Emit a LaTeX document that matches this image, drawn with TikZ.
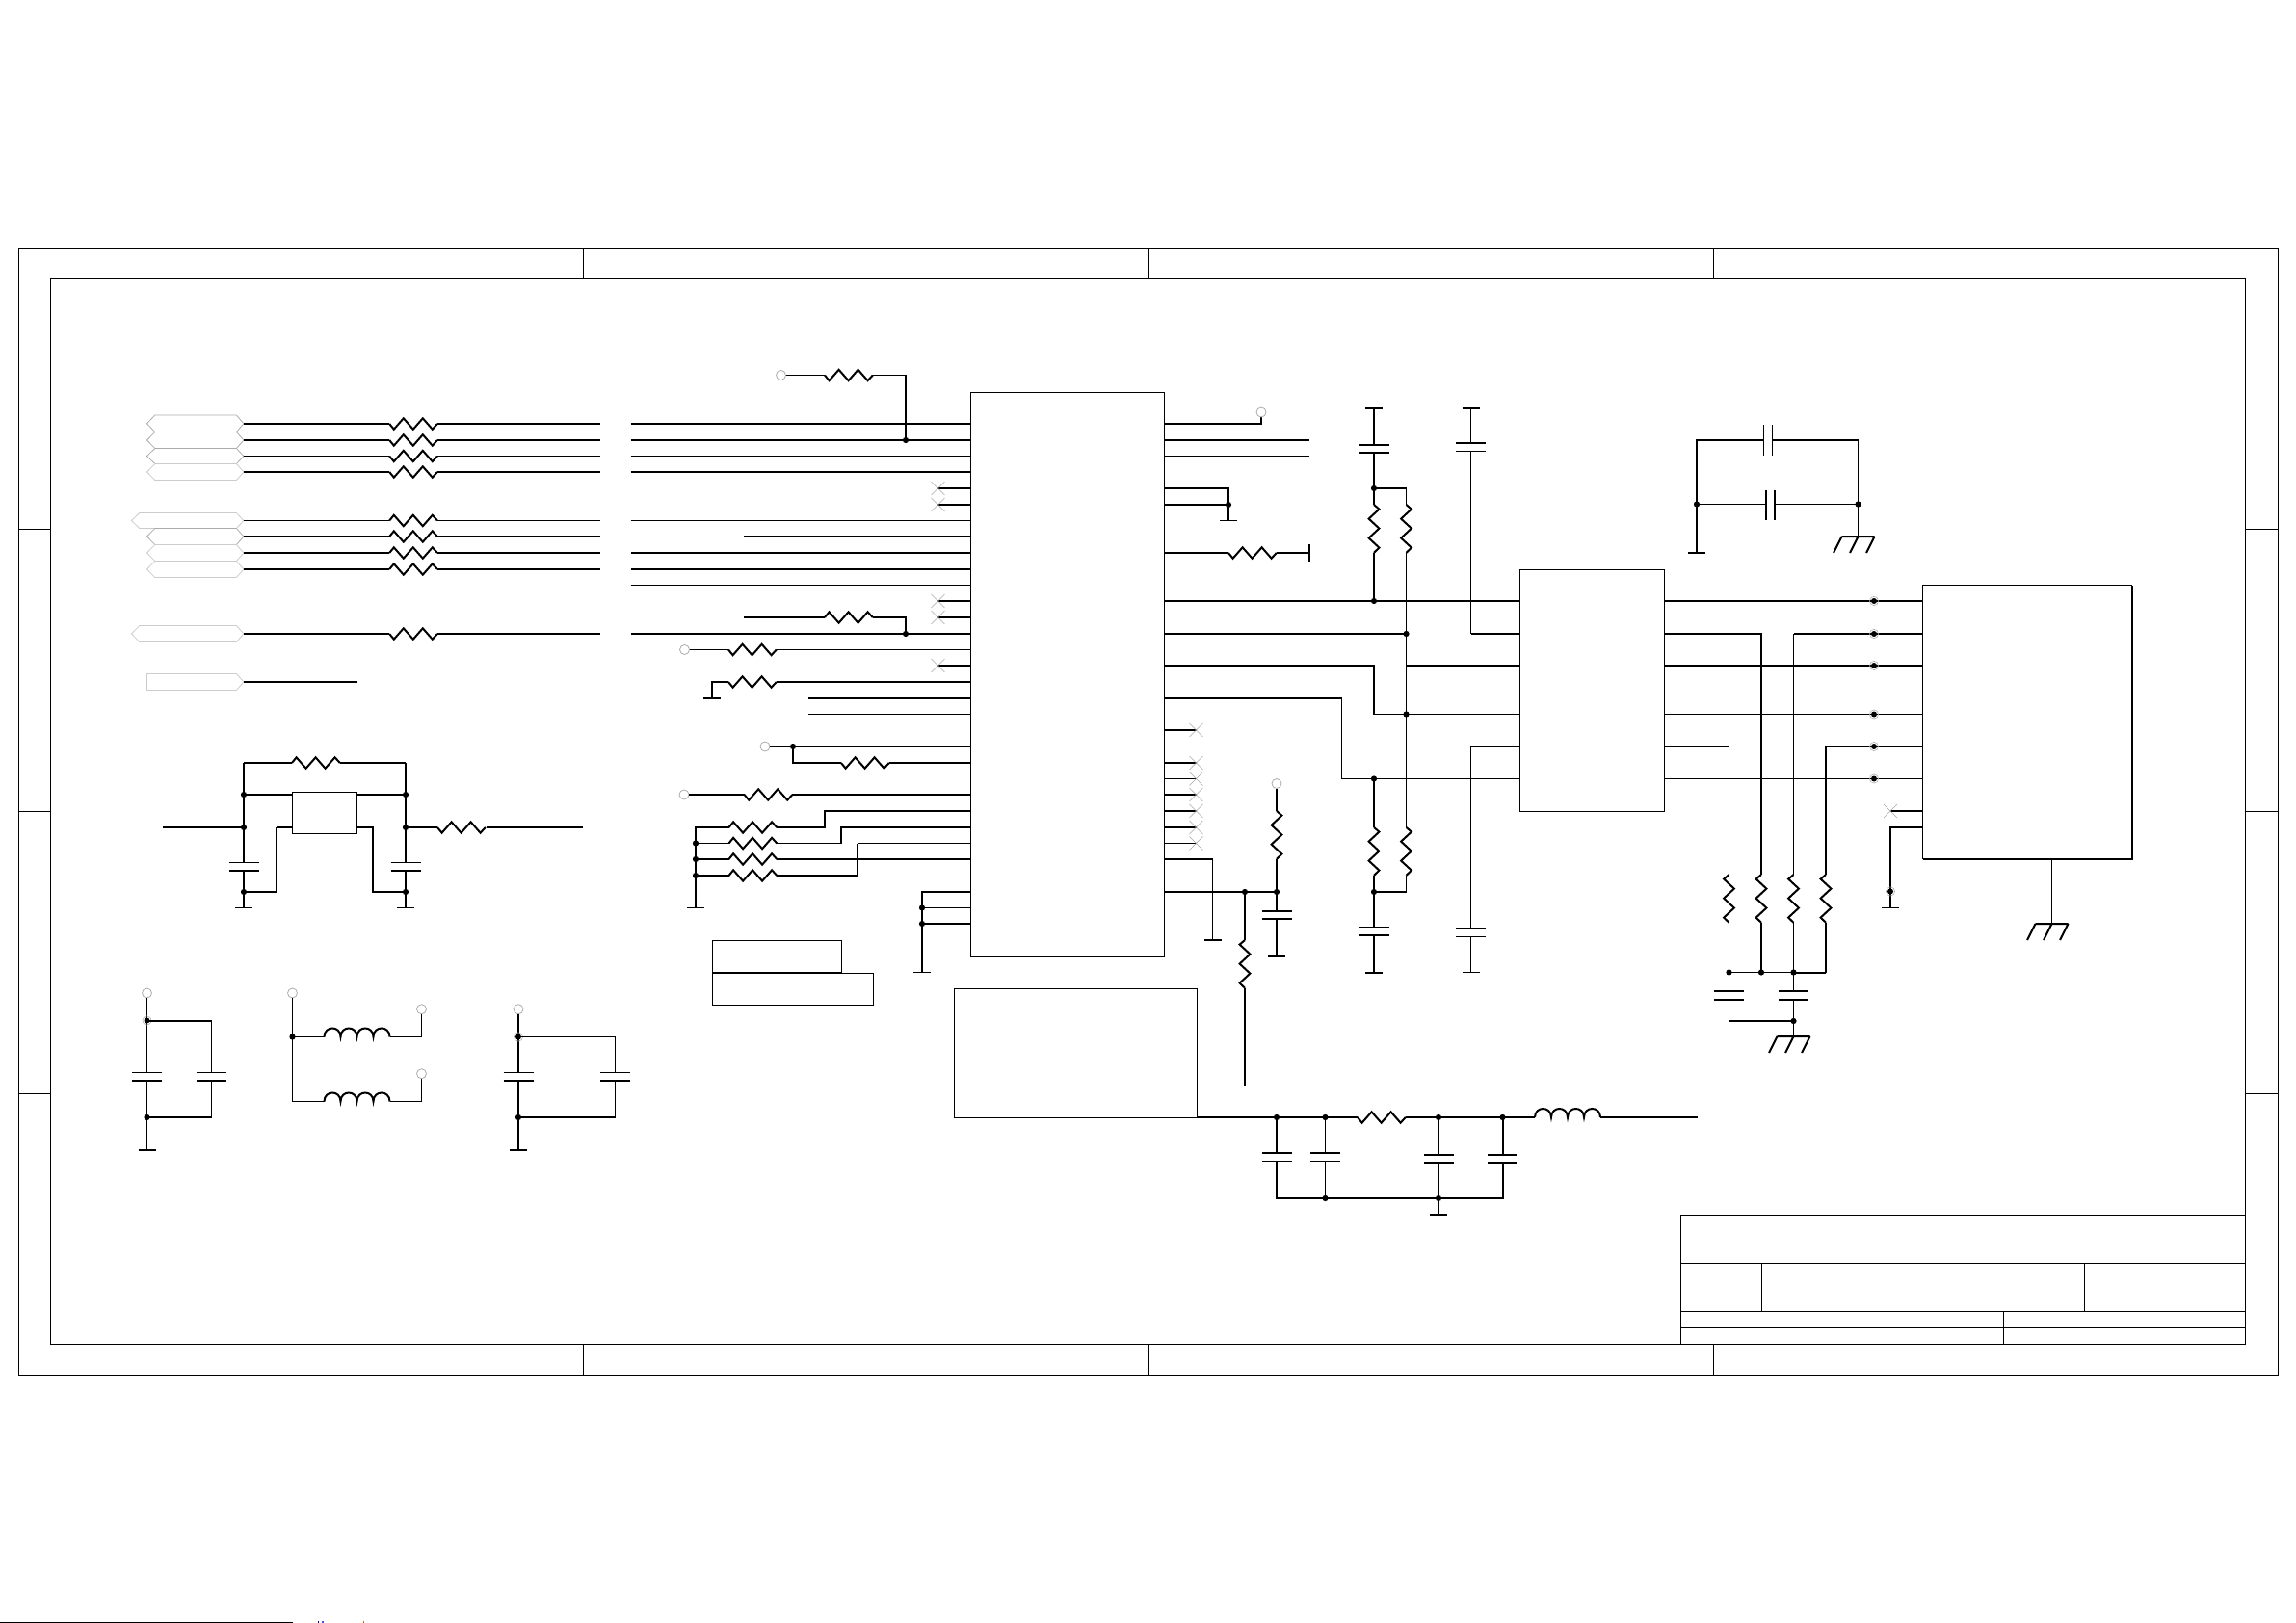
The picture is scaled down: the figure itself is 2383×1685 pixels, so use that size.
\documentclass[tikz,border=0pt]{standalone}
\tikzset{
  wa/.style={line width=0.65pt,black},
  wm/.style={line width=0.8pt,black},
  wb/.style={line width=1pt,black},
  frm/.style={line width=0.65pt,black},
  chip/.style={draw,line width=0.65pt,black,inner sep=0pt,outer sep=0pt,anchor=north west},
  nc/.style={line width=0.3pt,gray!70},
  port/.style={line width=0.4pt,gray!65},
  portd/.style={line width=0.4pt,gray!40},
}
% horizontal resistor: x, y, first swing, style
\newcommand{\sRH}[4]{\draw[#4,line join=miter] (#1,#2) -- ++(4.6,#3*5.7) -- ++(10,-#3*11.4) -- ++(10,#3*11.4) -- ++(10,-#3*11.4) -- ++(10,#3*11.4) -- ++(5.2,-#3*5.7);}
% vertical resistor: x, y, first swing, style
\newcommand{\sRV}[4]{\draw[#4,line join=miter] (#1,#2) -- ++(#3*5.4,4.6) -- ++(-#3*10.8,10) -- ++(#3*10.8,10) -- ++(-#3*10.8,10) -- ++(#3*10.8,10) -- ++(-#3*5.4,5.2);}
\newcommand{\sDot}[2]{\fill (#1,#2) circle[radius=1.55pt];}
\newcommand{\sHalo}[2]{\draw[nc,line width=0.25pt] (#1,#2) circle[radius=2.3pt]; \fill (#1,#2) circle[radius=1.5pt];}
\newcommand{\sOpen}[2]{\draw[port] (#1,#2) circle[radius=2.5pt];}
\newcommand{\sX}[2]{\draw[nc] (#1-7,#2-7) -- (#1+7,#2+7) (#1-7,#2+7) -- (#1+7,#2-7);}
\newcommand{\sGT}[3]{\draw[#3] (#1-9,#2) -- (#1+9,#2);}
\newcommand{\sEA}[2]{\draw[wb] (#1-17,#2) -- (#1+17,#2) (#1-17,#2) -- ++(-8.5,17) (#1,#2) -- ++(-8.5,17) (#1+17,#2) -- ++(-8.5,17);}
% capacitor with horizontal plates: x, y1, y2, style1, style2
\newcommand{\sCap}[5]{\draw[#4] (#1-15.5,#2) -- (#1+15.5,#2); \draw[#5] (#1-15.5,#3) -- (#1+15.5,#3);}
% inductor: x, y, style
\newcommand{\sInd}[3]{\draw[#3] (#1,#2) .. controls (#1,#2-12) and (#1+17,#2-12) .. (#1+17,#2) .. controls (#1+17,#2-12) and (#1+34,#2-12) .. (#1+34,#2) .. controls (#1+34,#2-12) and (#1+51,#2-12) .. (#1+51,#2) .. controls (#1+51,#2-12) and (#1+68,#2-12) .. (#1+68,#2);}
% bus port: left x, top y, bottom y, style
\newcommand{\sHex}[4]{\draw[#4] (#1,{(#2+#3)/2}) -- (#1+8.3,#2) -- (245.4,#2) -- (253,{(#2+#3)/2}) -- (245.4,#3) -- (#1+8.3,#3) -- cycle;}
\begin{document}
\begin{tikzpicture}[x=0.5pt,y=-0.5pt]
\useasboundingbox (0,0) rectangle (2383,1685);
% ---- sheet frame
\draw[frm] (19.5,257.5) rectangle (2364.5,1428.5);
\draw[frm] (52.5,289.5) rectangle (2330.5,1395.5);
\foreach \x in {605.5,1192.5,1778.5}{\draw[frm] (\x,257.5) -- (\x,289.5) (\x,1395.5) -- (\x,1428.5);}
\foreach \y in {549.5,842.5,1135.5}{\draw[frm] (19.5,\y) -- (52.5,\y) (2330.5,\y) -- (2364.5,\y);}
% title block
\draw[frm] (1744.5,1395.5) -- (1744.5,1261.5) -- (2330.5,1261.5);
\draw[frm] (1744.5,1311.5) -- (2330.5,1311.5) (1744.5,1361.5) -- (2330.5,1361.5) (1744.5,1378.5) -- (2330.5,1378.5);
\draw[frm] (1828.5,1311.5) -- (1828.5,1361.5) (2163.5,1311.5) -- (2163.5,1361.5) (2079.5,1361.5) -- (2079.5,1395.5);
% page-edge remnant
\draw[line width=0.6pt] (0,1684.3) -- (304,1684.3);
\fill[blue!60!black] (330,1683.4) rectangle (331,1685);
\fill[blue!70] (334,1683.4) rectangle (335.5,1685);
\fill[orange!80!black] (377,1683.4) rectangle (378,1685);
% ---- boxes
\node[chip,minimum width=100.5pt,minimum height=293pt] (u1) at (1007.5,407.5) {};
\node[chip,minimum width=75pt,minimum height=125.5pt] (u2) at (1577.5,591.5) {};
\node[chip,minimum width=108.5pt,minimum height=142pt] (u3) at (1995.5,607.5) {};
\draw[wb] (u3.north east) -- (u3.south east) -- (u3.south west);
\node[chip,minimum width=126pt,minimum height=67pt] (u4) at (990.5,1026.5) {};
\node[chip,minimum width=33.5pt,minimum height=21.5pt] (u5) at (303.5,822.5) {};
\node[chip,minimum width=67pt,minimum height=16.5pt] (lab1) at (739.5,976.5) {};
\node[chip,minimum width=83.5pt,minimum height=16.5pt] (lab2) at (739.5,1010.5) {};
% ---- bus ports
\sHex{152.5}{431}{448.5}{port}
\sHex{152.5}{448.5}{465.5}{port}
\sHex{152.5}{465.5}{481.5}{port}
\sHex{152.5}{481.5}{498.5}{portd}
\sHex{136.5}{532.5}{548.5}{portd}
\sHex{152.5}{548.5}{565.5}{port}
\sHex{152.5}{565.5}{582.5}{portd}
\sHex{152.5}{582.5}{599.5}{portd}
\sHex{136.5}{649.5}{666.5}{portd}
\draw[portd] (152.5,699.5) -- (245.4,699.5) -- (253,708) -- (245.4,716.5) -- (152.5,716.5) -- cycle;
% ---- left-hand series rows
\foreach \y/\s/\g in {440/wb/1,457/wb/1,473.5/wa/1,490/wb/1,540.5/wa/-1,574/wb/-1,591/wb/-1,658/wb/1}{
  \draw[\s] (253,\y) -- (404.2,\y) (454,\y) -- (622.5,\y) (654.5,\y) -- (u1.west |- 0,\y);
  \sRH{404.2}{\y}{\g}{wb}
}
\draw[wb] (253,557) -- (404.2,557) (454,557) -- (622.5,557) (772,557) -- (u1.west |- 0,557);
\sRH{404.2}{557}{-1}{wb}
\draw[wa] (654.5,607.5) -- (u1.west |- 0,607.5);
\draw[wb] (253,708) -- (370.5,708);
% pull-up to row 457
\sOpen{810.5}{389.5}
\draw[wa] (815.5,389.5) -- (856,389.5);
\sRH{856}{389.5}{1}{wb}
\draw[wa] (906,389.5) -- (940,389.5);
\draw[wb] (940,389) -- (940,457);
\sDot{940}{457}
% no-connect pins, left
\foreach \y in {507,524,624,641,691}{\draw[wb] (972.5,\y) -- (u1.west |- 0,\y); \sX{973.5}{\y}}
% row 641 series
\draw[wb] (772,641) -- (856,641);
\sRH{856}{641}{-1}{wb}
\draw[wb] (906,641) -- (940,641) -- (940,658);
\sDot{940}{658}
% row 674.5
\sOpen{710.5}{674.5}
\draw[wa] (715.5,674.5) -- (756,674.5) (806,674.5) -- (u1.west |- 0,674.5);
\sRH{756}{674.5}{1}{wb}
% row 708
\draw[wb] (730,725) -- (748,725) (739,725) -- (739,708) -- (756,708) (806,708) -- (u1.west |- 0,708);
\sRH{756}{708}{1}{wb}
\draw[wb] (839,725) -- (u1.west |- 0,725);
\draw[wa] (839,741.5) -- (u1.west |- 0,741.5);
% rows 775, 792
\sOpen{794}{775}
\draw[wb] (799,775) -- (u1.west |- 0,775);
\sDot{823}{775}
\draw[wb] (823,775) -- (823,792) -- (873,792) (923,792) -- (u1.west |- 0,792);
\sRH{873}{792}{1}{wb}
% row 825
\sOpen{710}{825}
\draw[wb] (715,825) -- (772.6,825) (822.4,825) -- (u1.west |- 0,825);
\sRH{772.6}{825}{1}{wb}
% pull-down ladder
\draw[wb] (u1.west |- 0,842) -- (856,842) -- (856,859) -- (806.3,859);
\draw[wb] (u1.west |- 0,859) -- (873,859) -- (873,875.5);
\draw[wa] (873,875.5) -- (806.3,875.5);
\draw[wa] (u1.west |- 0,875.5) -- (890,875.5);
\draw[wb] (890,875.5) -- (890,909) -- (806.3,909);
\draw[wb] (u1.west |- 0,892) -- (806.3,892);
\foreach \y/\s in {859/wb,875.5/wa,892/wb,909/wb}{
  \sRH{756.5}{\y}{-1}{wb}
  \draw[\s] (756.5,\y) -- (722,\y);
}
\draw[wb] (722,858) -- (722,942.5);
\sGT{722}{942.5}{wa}
\foreach \y in {875.5,892,909}{\sDot{722}{\y}}
% bottom-left pins of u1
\draw[wb] (u1.west |- 0,926) -- (957,926) -- (957,1009.5);
\draw[wa] (u1.west |- 0,942.5) -- (957,942.5);
\draw[wb] (u1.west |- 0,959) -- (957,959);
\sDot{957}{942.5}
\sDot{957}{959}
\sGT{957}{1009.5}{wa}
% ---- right side of u1
\draw[wb] (u1.east |- 0,440) -- (1309,440) -- (1309,433);
\sOpen{1309}{428}
\draw[wb] (u1.east |- 0,457) -- (1359,457);
\draw[wa] (u1.east |- 0,473.5) -- (1359,473.5);
\draw[wb] (u1.east |- 0,507) -- (1275,507) -- (1275,540.5);
\draw[wb] (u1.east |- 0,524) -- (1275,524);
\sDot{1275}{524}
\sGT{1275}{540.5}{wa}
\draw[wb] (u1.east |- 0,574) -- (1275,574) (1325,574) -- (1359,574) (1359,565) -- (1359,582.5);
\sRH{1275}{574}{1}{wb}
\foreach \y/\s in {758/wb,792/wb,808.5/wa,825/wb,842/wb,859/wb,875.5/wa}{
  \draw[\s] (u1.east |- 0,\y) -- (1242,\y);
  \sX{1241.5}{\y}
}
% main rows to u2
\draw[wb] (u1.east |- 0,624) -- (u2.west |- 0,624);
\sDot{1426}{624}
\draw[wb] (u1.east |- 0,658) -- (1459.5,658);
\sDot{1459.5}{658}
\draw[wb] (u1.east |- 0,691) -- (1426,691) -- (1426,741.5);
\draw[wa] (1426,741.5) -- (u2.west |- 0,741.5);
\sDot{1459.5}{741.5}
\draw[wb] (1459.5,691) -- (u2.west |- 0,691);
\draw[wb] (u1.east |- 0,725) -- (1392.5,725);
\draw[wa] (1392.5,725) -- (1392.5,808.5) -- (u2.west |- 0,808.5);
\sDot{1426}{808.5}
% cap/res column at 1426 (top)
\sGT{1426}{423.5}{wb}
\draw[wb] (1426,423.5) -- (1426,462) (1426,470) -- (1426,507) -- (1459.5,507);
\sCap{1426}{462}{470}{wb}{wb}
\sDot{1426}{507}
\draw[wa] (1426,507) -- (1426,524);
\sRV{1426}{524}{1}{wb}
\draw[wb] (1426,574) -- (1426,624);
\draw[wa] (1459.5,507) -- (1459.5,524) (1459.5,574) -- (1459.5,691);
\sRV{1459.5}{524}{1}{wb}
% cap column at 1526.5
\sGT{1526.5}{423.5}{wb}
\draw[wa] (1526.5,423.5) -- (1526.5,460) (1526.5,468.5) -- (1526.5,658);
\sCap{1526.5}{460}{468.5}{wb}{wa}
\draw[wb] (1526.5,658) -- (u2.west |- 0,658);
\draw[wb] (u2.west |- 0,775) -- (1526.5,775);
\draw[wa] (1526.5,775) -- (1526.5,964) (1526.5,972.5) -- (1526.5,1009.5);
\sCap{1526.5}{964}{972.5}{wb}{wa}
\sGT{1526.5}{1009.5}{wa}
% lower res/cap columns
\draw[wb] (1426,808.5) -- (1426,859);
\sRV{1426}{859}{1}{wb}
\draw[wb] (1426,909) -- (1426,962.5) (1426,971) -- (1426,1009.5);
\sCap{1426}{962.5}{971}{wa}{wb}
\sGT{1426}{1009.5}{wb}
\sDot{1426}{926}
\draw[wa] (1459.5,691) -- (1459.5,859);
\sRV{1459.5}{859}{1}{wb}
\draw[wa] (1459.5,909) -- (1459.5,926);
\draw[wb] (1460,926) -- (1426,926);
% rows 892 / 926 of u1
\draw[wb] (u1.east |- 0,892) -- (1258.5,892);
\draw[wa] (1258.5,892) -- (1258.5,976);
\sGT{1258.5}{976}{wb}
\draw[wb] (u1.east |- 0,926) -- (1325,926);
\sDot{1292}{926}
\sDot{1325}{926}
\sOpen{1325}{813.5}
\draw[wb] (1325,818.5) -- (1325,842) (1325,892) -- (1325,946) (1325,954) -- (1325,993);
\sRV{1325}{842}{1}{wb}
\sCap{1325}{946}{954}{wb}{wb}
\sGT{1325}{993}{wb}
\draw[wb] (1292,926) -- (1292,976);
\sRV{1292}{976}{-1}{wb}
\draw[wb] (1292,1026) -- (1292,1127);
% ---- power filter under u4
\draw[wb] (1242.5,1160) -- (1409,1160) (1459.4,1160) -- (1593,1160) (1661,1160) -- (1762,1160);
\sRH{1409}{1160}{1}{wb}
\sInd{1593}{1160}{wb}
\foreach \x in {1325,1375.5,1493,1559.5}{\sDot{\x}{1160}}
\draw[wb] (1325,1160) -- (1325,1197) (1325,1205.5) -- (1325,1244) -- (1559.5,1244) -- (1559.5,1207) (1559.5,1199) -- (1559.5,1160);
\sCap{1325}{1197}{1205.5}{wb}{wa}
\draw[wa] (1375.5,1160) -- (1375.5,1197) (1375.5,1205.5) -- (1375.5,1244);
\sCap{1375.5}{1197}{1205.5}{wb}{wa}
\draw[wb] (1493,1160) -- (1493,1199) (1493,1207) -- (1493,1261);
\sCap{1493}{1199}{1207}{wb}{wb}
\sCap{1559.5}{1199}{1207}{wb}{wb}
\sDot{1375.5}{1244}
\sDot{1493}{1244}
\sGT{1493}{1261}{wb}
% ---- crystal caps top right
\draw[wb] (1761,574) -- (1761,457) -- (1831,457);
\sGT{1761}{574}{wb}
\draw[wa] (1830.5,441) -- (1830.5,472.5) (1839.5,441) -- (1839.5,472.5);
\draw[wm] (1839.5,457) -- (1928.5,457);
\draw[wa] (1928.5,457) -- (1928.5,557);
\draw[wm] (1761,523.5) -- (1833,523.5) (1842,523.5) -- (1928.5,523.5);
\draw[wb] (1833,508.5) -- (1833,539.5) (1842,508.5) -- (1842,539.5);
\sDot{1761}{523.5}
\sDot{1928.5}{523.5}
\sEA{1928.5}{557}
% ---- u2 to u3
\draw[wb] (u2.east |- 0,624) -- (u3.west |- 0,624);
\draw[wb] (u2.east |- 0,658) -- (1828,658) -- (1828,908);
\draw[wb] (u3.west |- 0,658) -- (1861.5,658);
\draw[wa] (1861.5,658) -- (1861.5,908);
\draw[wb] (u2.east |- 0,691) -- (u3.west |- 0,691);
\draw[wa] (u2.east |- 0,741.5) -- (u3.west |- 0,741.5);
\draw[wb] (u2.east |- 0,775) -- (1794.5,775);
\draw[wa] (1794.5,775) -- (1794.5,908);
\draw[wb] (u3.west |- 0,775) -- (1895,775) -- (1895,908);
\draw[wa] (u2.east |- 0,808.5) -- (u3.west |- 0,808.5);
\foreach \y in {624,658,691,741.5,775,808.5}{\sHalo{1945}{\y}}
\draw[wb] (u3.west |- 0,842) -- (1962,842);
\sX{1962}{842}
\draw[wb] (u3.west |- 0,859) -- (1962,859) -- (1962,942.5);
\sHalo{1962}{925.5}
\sGT{1962}{942.5}{wa}
\draw[wm] (2129.5,892) -- (2129.5,959);
\sEA{2129.5}{959}
% terminating resistors
\foreach \x in {1794.5,1828,1861.5,1895}{\sRV{\x}{908}{-1}{wb}}
\draw[wa] (1794.5,958) -- (1794.5,1029) (1794.5,1038) -- (1794.5,1060);
\draw[wb] (1828,958) -- (1828,1009.5);
\draw[wa] (1861.5,958) -- (1861.5,1029) (1861.5,1038) -- (1861.5,1076);
\draw[wb] (1895,958) -- (1895,1009.5);
\draw[wm] (1794.5,1009.5) -- (1861.5,1009.5);
\draw[wb] (1861.5,1009.5) -- (1895,1009.5);
\foreach \x in {1794.5,1828,1861.5}{\sDot{\x}{1009.5}}
\sCap{1794.5}{1029}{1038}{wa}{wb}
\sCap{1861.5}{1029}{1038}{wa}{wb}
\draw[wb] (1794.5,1060) -- (1861.5,1060);
\sDot{1861.5}{1060}
\sEA{1861.5}{1076}
% ---- regulator block, left
\draw[wb] (253,792) -- (303,792) (353.3,792) -- (421,792);
\sRH{303}{792}{-1}{wb}
\draw[wb] (253,825) -- (u5.west |- 0,825);
\draw[wb] (u5.east |- 0,825) -- (421,825);
\draw[wb] (169,859) -- (253,859);
\draw[wb] (421,859) -- (454,859) (504.5,859) -- (605,859);
\sRH{454}{859}{1}{wb}
\draw[wb] (u5.west |- 0,859) -- (286.5,859);
\draw[wm] (286.5,859) -- (286.5,926);
\draw[wb] (286.5,926) -- (253,926);
\draw[wb] (u5.east |- 0,859) -- (387,859) -- (387,926) -- (421,926);
\draw[wb] (253,792) -- (253,895.5) (253,904) -- (253,942.5);
\draw[wm] (421,792) -- (421,895.5) (421,904) -- (421,942.5);
\sCap{253}{895.5}{904}{wa}{wb}
\sCap{421}{895.5}{904}{wa}{wb}
\sGT{253}{942.5}{wa}
\sGT{421}{942.5}{wa}
\foreach \y in {825,859,926}{\sDot{253}{\y}\sDot{421}{\y}}
% ---- decoupling A
\sOpen{152.5}{1031}
\draw[wa] (152.5,1036) -- (152.5,1113.5) (152.5,1122) -- (152.5,1194);
\sHalo{152.5}{1059.5}
\draw[wb] (152.5,1059.5) -- (219.5,1059.5);
\draw[wm] (219.5,1059.5) -- (219.5,1113.5) (219.5,1122) -- (219.5,1160);
\sCap{152.5}{1113.5}{1122}{wa}{wb}
\sCap{219.5}{1113.5}{1122}{wa}{wb}
\draw[wb] (219.5,1160) -- (152.5,1160);
\sDot{152.5}{1160}
\sGT{152.5}{1194}{wb}
% ---- decoupling B (inductors)
\sOpen{303.5}{1031}
\draw[wa] (303.5,1036) -- (303.5,1143.5) -- (336.5,1143.5) (303.5,1076.5) -- (336.5,1076.5);
\sDot{303.5}{1076.5}
\sInd{336.5}{1076.5}{wb}
\sInd{336.5}{1143.5}{wb}
\draw[wa] (404.5,1076.5) -- (437.5,1076.5) -- (437.5,1052.7) (404.5,1143.5) -- (437.5,1143.5) -- (437.5,1119.7);
\sOpen{437.5}{1047.7}
\sOpen{437.5}{1114.7}
% ---- decoupling C
\sOpen{538}{1047.7}
\draw[wb] (538,1052.7) -- (538,1113.5) (538,1122) -- (538,1194);
\sHalo{538}{1076.5}
\draw[wa] (538,1076.5) -- (638.5,1076.5);
\draw[wm] (638.5,1076.5) -- (638.5,1113.5) (638.5,1122) -- (638.5,1160);
\sCap{538}{1113.5}{1122}{wa}{wb}
\sCap{638.5}{1113.5}{1122}{wa}{wb}
\draw[wb] (638.5,1160) -- (538,1160);
\sDot{538}{1160}
\sGT{538}{1194}{wb}
\end{tikzpicture}
\end{document}
